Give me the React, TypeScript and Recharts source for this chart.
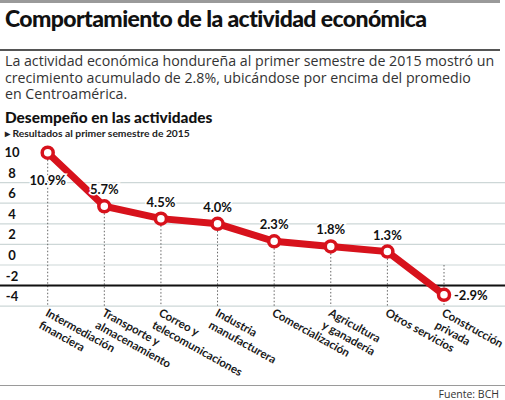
import React from "react";
import {
  CartesianGrid,
  LabelList,
  Line,
  LineChart,
  ReferenceLine,
  XAxis,
  YAxis
} from "recharts";

const categories = [
  "Intermediación financiera",
  "Transporte y almacenamiento",
  "Correo y telecomunicaciones",
  "Industria manufacturera",
  "Comercialización",
  "Agricultura y ganadería",
  "Otros servicios",
  "Construcción privada"
];

const categoryLines = [
  ["Intermediación", "financiera"],
  ["Transporte y", "almacenamiento"],
  ["Correo y", "telecomunicaciones"],
  ["Industria", "manufacturera"],
  ["Comercialización"],
  ["Agricultura", "y ganadería"],
  ["Otros servicios"],
  ["Construcción", "privada"]
];

const growth = [10.9, 5.7, 4.5, 4.0, 2.3, 1.8, 1.3, -2.9];

const yTicks = [-4, -2, 0, 2, 4, 6, 8, 10];
const gridValues = [-4, -2, 0, 2, 4, 6, 8];

const red = "#d7121c";
const bold = "Lato, 'Noto Sans', sans-serif";

const data = categories.map((name, i) => ({ name, value: growth[i] }));

function XTick({ x, y, payload }: any) {
  const idx = categories.indexOf(payload.value);
  const lines = categoryLines[idx] || [payload.value];
  return (
    <g transform={`translate(${x - 3},${y + 9}) rotate(29)`}>
      <text fontFamily={bold} fontWeight={700} fontSize={11.5} fill="#1a1a1a">
        {lines.map((l, i) => (
          <tspan key={l} x={0} dy={i === 0 ? 0 : 14}>
            {l}
          </tspan>
        ))}
      </text>
    </g>
  );
}

function YTick({ y, payload }: any) {
  return (
    <text
      x={12}
      y={y - 10}
      textAnchor="middle"
      dominantBaseline="central"
      fontFamily={bold}
      fontWeight={700}
      fontSize={13}
      fill="#111"
    >
      {payload.value}
    </text>
  );
}

function ValueLabel({ x, y, value, index }: any) {
  const text = `${value.toFixed(1)}%`;
  let tx = x;
  let ty = y - 17;
  let anchor: "middle" | "start" = "middle";
  if (index === 0) ty = y + 27;
  if (value < 0) {
    tx = x + 10;
    ty = y;
    anchor = "start";
  }
  return (
    <text
      x={tx}
      y={ty}
      textAnchor={anchor}
      dominantBaseline="central"
      fontFamily={bold}
      fontWeight={700}
      fontSize={13}
      fill="#111"
      stroke="#fff"
      strokeWidth={3}
      paintOrder="stroke"
    >
      {text}
    </text>
  );
}

export default function App() {
  return (
    <div
      style={{
        position: "absolute",
        left: 0,
        top: 0,
        width: 505,
        height: 400,
        background: "#fff",
        overflow: "hidden",
        color: "#333"
      }}
    >
      <div style={{ position: "absolute", left: 0, top: 0, width: 500, height: 3, background: "#9a9a9a" }} />
      <div
        style={{
          position: "absolute",
          left: 5,
          top: 4,
          fontFamily: bold,
          fontWeight: 900,
          fontSize: 23,
          color: "#111",
          whiteSpace: "nowrap",
          letterSpacing: -0.6
        }}
      >
        Comportamiento de la actividad económica
      </div>
      <div style={{ position: "absolute", left: 0, top: 49, width: 500, height: 2, background: "#555" }} />
      <div
        style={{
          position: "absolute",
          left: 5,
          top: 53,
          width: 500,
          fontFamily: "'Open Sans', sans-serif",
          fontSize: 14.2,
          lineHeight: "16.5px",
          color: "#333",
          whiteSpace: "nowrap"
        }}
      >
        <div>La actividad económica hondureña al primer semestre de 2015 mostró un</div>
        <div>crecimiento acumulado de 2.8%, ubicándose por encima del promedio</div>
        <div>en Centroamérica.</div>
      </div>
      <div
        style={{
          position: "absolute",
          left: 5,
          top: 108,
          fontFamily: bold,
          fontWeight: 900,
          fontSize: 15.4,
          color: "#111",
          whiteSpace: "nowrap"
        }}
      >
        Desempeño en las actividades
      </div>
      <div
        style={{
          position: "absolute",
          left: 5,
          top: 127,
          fontFamily: bold,
          fontWeight: 700,
          fontSize: 10.3,
          color: "#222",
          whiteSpace: "nowrap"
        }}
      >
        ▸ Resultados al primer semestre de 2015
      </div>

      <div style={{ position: "absolute", left: 0, top: 130 }}>
        <LineChart
          width={505}
          height={260}
          data={data}
          margin={{ top: 11.4, right: 0, bottom: 13.8, left: -24 }}
        >
          <CartesianGrid
            vertical={false}
            stroke="#cdd7d7"
            strokeWidth={1.2}
            horizontalValues={gridValues}
          />
          <XAxis
            dataKey="name"
            interval={0}
            axisLine={false}
            tickLine={false}
            tickSize={0}
            tickMargin={0}
            height={70}
            padding={{ left: 47.7, right: 61 }}
            tick={<XTick />}
          />
          <YAxis
            width={24}
            domain={[-4, 12]}
            ticks={yTicks}
            interval={0}
            axisLine={false}
            tickLine={false}
            tickSize={0}
            tickMargin={0}
            tick={<YTick />}
          />
          {data.map((d) => (
            <ReferenceLine
              key={d.name}
              segment={[
                { x: d.name, y: Math.max(d.value, 0) },
                { x: d.name, y: -4 }
              ]}
              stroke="#666"
              strokeDasharray="1.5 2"
              strokeWidth={1}
            />
          ))}
          <ReferenceLine y={-2} stroke="#111" strokeWidth={2} />
          <Line
            dataKey="value"
            stroke={red}
            strokeWidth={7}
            isAnimationActive={false}
            dot={{ r: 5.5, fill: "#fff", stroke: red, strokeWidth: 3.5 }}
          >
            <LabelList dataKey="value" content={<ValueLabel />} />
          </Line>
        </LineChart>
      </div>

      <div style={{ position: "absolute", left: 0, top: 385, width: 505, height: 1, background: "#9a9a9a" }} />
      <div
        style={{
          position: "absolute",
          right: 6,
          top: 387,
          fontFamily: "'Open Sans', sans-serif",
          fontSize: 10.5,
          color: "#333"
        }}
      >
        Fuente: BCH
      </div>
    </div>
  );
}
